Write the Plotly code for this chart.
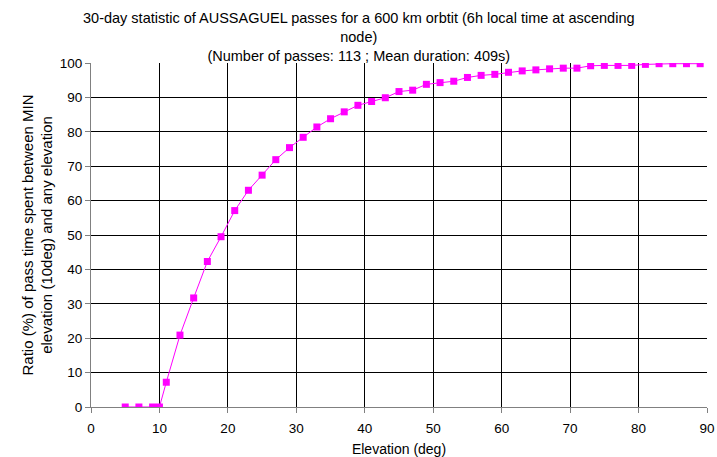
import plotly.graph_objects as go

elevation = [5, 7, 9, 10, 11, 13, 15, 17, 19, 21, 23, 25, 27, 29, 31, 33, 35, 37, 39, 41,
             43, 45, 47, 49, 51, 53, 55, 57, 59, 61, 63, 65, 67, 69, 71, 73, 75, 77, 79,
             81, 83, 85, 87, 89]
ratio = [0, 0, 0, 0, 7.2, 20.9, 31.7, 42.3, 49.5, 57.1, 63.0, 67.4, 71.9, 75.4, 78.4, 81.4,
         83.8, 85.8, 87.7, 88.8, 89.9, 91.7, 92.1, 93.8, 94.3, 94.7, 95.8, 96.4, 96.7, 97.3,
         97.7, 98.0, 98.3, 98.5, 98.5, 99.2, 99.3, 99.3, 99.3, 99.6, 99.8, 99.8, 99.8, 99.8]

title_text = ("30-day statistic of AUSSAGUEL passes for a 600 km orbtit (6h local time at ascending<br>"
              "node)<br>(Number of passes: 113 ; Mean duration: 409s)")
x_title = "Elevation (deg)"
y_title = "Ratio (%) of pass time spent between MIN<br>elevation (10deg) and any elevation"

FONT = "Liberation Sans, Arial, sans-serif"
W, H = 717, 457
L, R, T, B = 91, 10, 63, 50
PW, PH = W - L - R, H - T - B

fig = go.Figure()
fig.add_trace(go.Scatter(
    x=elevation, y=ratio, mode="lines+markers",
    line=dict(color="#FF00FF", width=1),
    marker=dict(symbol="square", size=7, color="#FF00FF"),
    showlegend=False,
))

fig.add_annotation(text=title_text, xref="paper", yref="paper",
                   x=(W / 2 - L) / PW, y=(H - B - 37) / PH,
                   xanchor="center", yanchor="middle", align="center", showarrow=False,
                   font=dict(family=FONT, size=14.5, color="black"))

fig.update_layout(
    width=W, height=H,
    margin=dict(l=L, r=R, t=T, b=B),
    paper_bgcolor="white", plot_bgcolor="white",
    font=dict(family=FONT, size=13.5, color="black"),
    xaxis=dict(range=[0, 90], dtick=10, tick0=0, showgrid=True, gridcolor="#000000", gridwidth=1,
               showline=True, linecolor="#808080", linewidth=1, mirror=False,
               ticks="outside", ticklen=5, tickcolor="#808080", zeroline=False,
               ticklabelstandoff=4, automargin=False,
               title=dict(text=x_title, standoff=8, font=dict(family=FONT, size=14))),
    yaxis=dict(range=[0, 100], dtick=10, tick0=0, showgrid=True, gridcolor="#000000", gridwidth=1,
               showline=True, linecolor="#808080", linewidth=1,
               ticks="outside", ticklen=5, tickcolor="#808080", zeroline=False,
               automargin=False,
               title=dict(text=y_title, standoff=3, font=dict(family=FONT, size=15))),
)

fig.write_html("out.html")
